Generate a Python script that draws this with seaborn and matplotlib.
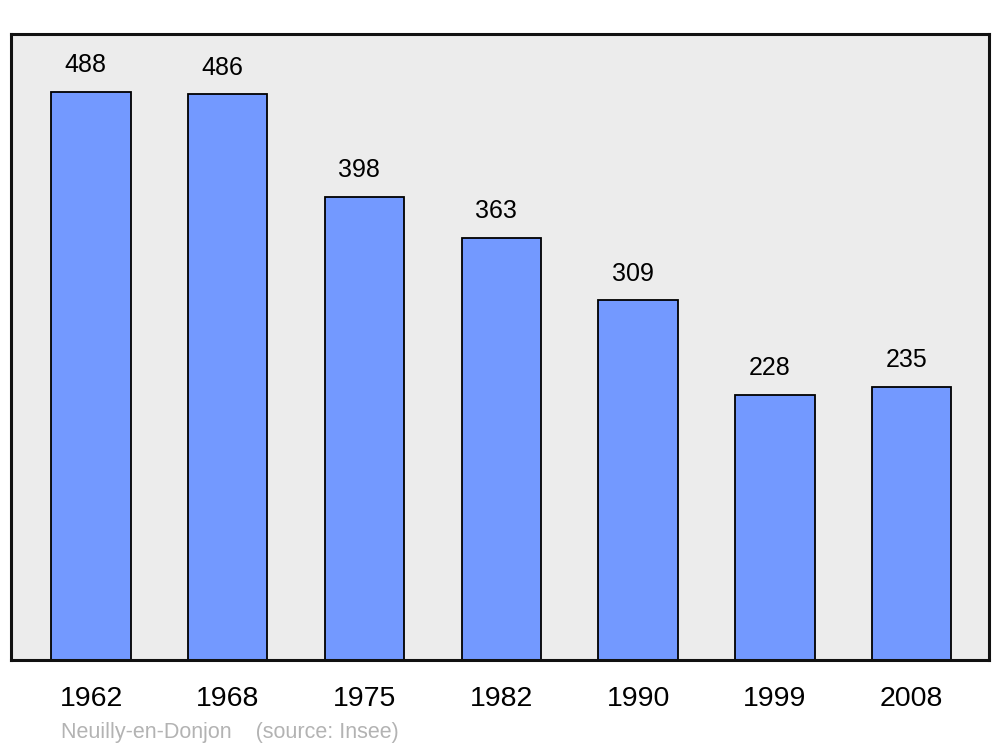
import matplotlib
matplotlib.use("Agg")
import matplotlib.pyplot as plt
import seaborn as sns
import pandas as pd

years = ["1962", "1968", "1975", "1982", "1990", "1999", "2008"]
population = [488, 486, 398, 363, 309, 228, 235]
commune = "Neuilly-en-Donjon"
source = "(source: Insee)"

df = pd.DataFrame({"year": years, "pop": population})

sns.set_style("white")
plt.rcParams['font.family'] = ['Liberation Sans', 'DejaVu Sans']
plt.rcParams['text.color'] = 'black'
plt.rcParams['xtick.color'] = 'black'

fig = plt.figure(figsize=(10, 7.47), dpi=100)
ax = fig.add_axes([0.011, 0.1165, 0.978, 0.838])
ax.set_facecolor("#ececec")

sns.barplot(data=df, x="year", y="pop", color="#7399ff", saturation=1,
            width=0.58, edgecolor="black", linewidth=1.3, ax=ax)

# value labels on top of bars
for i, v in enumerate(population):
    ax.text(i - 0.04, v + 23, str(v), ha="center", va="center", fontsize=18, color="black")

ax.set_xlim(-0.585, 6.565)
ax.set_ylim(0, 538)
ax.set_yticks([])
ax.set_xlabel("")
ax.set_ylabel("")
ax.tick_params(axis="x", length=0, labelsize=20.5, pad=19, labelcolor="black")
for s in ax.spines.values():
    s.set_visible(True)
    s.set_linewidth(2.2)
    s.set_color("#111111")

fig.text(0.061, 0.0195, commune + "    " + source, fontsize=15.5, color="#b3b3b3",
         ha="left", va="center")

fig.savefig("out.png", dpi=100)
